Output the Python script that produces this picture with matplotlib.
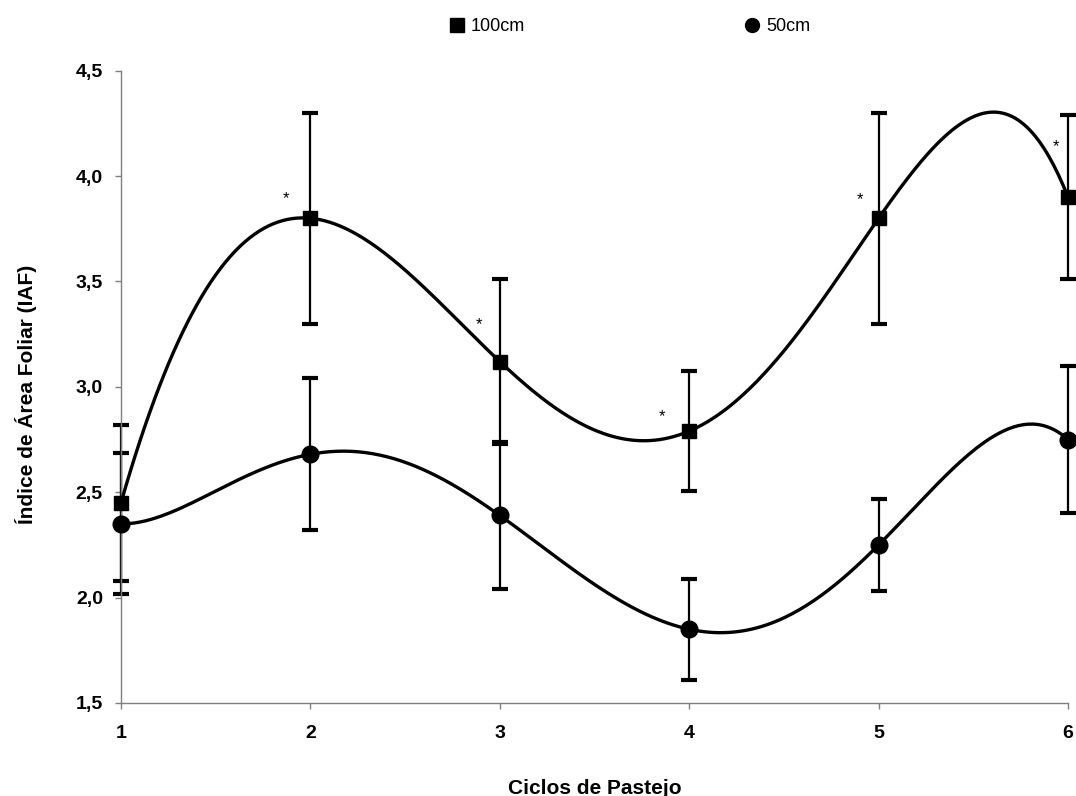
import numpy as np
import matplotlib
matplotlib.use("Agg")
import matplotlib.pyplot as plt
from matplotlib.ticker import FuncFormatter, FixedLocator

# ---- data ----
ciclos = [1, 2, 3, 4, 5, 6]
iaf_100 = [2.45, 3.80, 3.12, 2.79, 3.80, 3.90]
err_100 = [0.37, 0.50, 0.39, 0.285, 0.50, 0.39]
iaf_50 = [2.35, 2.68, 2.39, 1.85, 2.25, 2.75]
err_50 = [0.335, 0.36, 0.35, 0.24, 0.22, 0.35]
signif = [False, True, True, True, True, True]
y_ticks = [1.5, 2.0, 2.5, 3.0, 3.5, 4.0, 4.5]
legend_labels = ["100cm", "50cm"]
xlabel = "Ciclos de Pastejo"
ylabel = "Índice de Área Foliar (IAF)"

plt.rcParams['font.family'] = ['Liberation Sans', 'DejaVu Sans']

fig = plt.figure(figsize=(10.76, 7.96), dpi=100)
W, H = 1076, 796
ax = fig.add_axes([121 / W, 1 - 703 / H, (1068 - 121) / W, (703 - 70.7) / H])

x = np.array(ciclos, dtype=float)
xs = np.linspace(x.min(), x.max(), 400)

series = [
    (iaf_100, err_100, 's', 10),
    (iaf_50, err_50, 'o', 12),
]
for (vals, errs, mk, ms), lab in zip(series, legend_labels):
    # error bars
    ax.errorbar(x, vals, yerr=errs, fmt='none', ecolor='black', elinewidth=1.6,
                capsize=5.8, capthick=3.0, zorder=2, clip_on=False)
    # 5th-order polynomial trendline (as in the original)
    coef = np.polyfit(x, vals, len(x) - 1)
    ax.plot(xs, np.polyval(coef, xs), color='black', lw=2.4, zorder=3,
            solid_capstyle='round', clip_on=False)
    ax.plot(x, vals, linestyle='none', marker=mk, markersize=ms,
            color='black', zorder=4, clip_on=False, label=lab)

# significance asterisks (offsets in points from the 100cm markers)
star_dx = [0, -17.6, -14.8, -19.6, -13.4, -8.6]
star_dy = [0, 11.1, 23.6, 7.0, 10.4, 33.4]
for xi, yi, s, dx, dy in zip(x, iaf_100, signif, star_dx, star_dy):
    if s:
        ax.annotate("*", (xi, yi), xytext=(dx, dy), textcoords='offset points',
                    ha='center', va='baseline', fontsize=12, color='black')

ax.set_xlim(1, 6)
ax.set_ylim(1.5, 4.5)
ax.xaxis.set_major_locator(FixedLocator(ciclos))
ax.yaxis.set_major_locator(FixedLocator(y_ticks))
ax.yaxis.set_major_formatter(FuncFormatter(lambda v, p: f"{v:.1f}".replace('.', ',')))

for side in ['top', 'right']:
    ax.spines[side].set_visible(False)
for side in ['left', 'bottom']:
    ax.spines[side].set_color('#7f7f7f')
    ax.spines[side].set_linewidth(1.0)

ax.tick_params(axis='both', direction='out', length=4.5, width=1.0, color='#7f7f7f')
ax.tick_params(axis='y', pad=8.5, labelsize=14)
ax.tick_params(axis='x', pad=11, labelsize=14)
for t in ax.get_xticklabels() + ax.get_yticklabels():
    t.set_fontweight('bold')

ax.set_xlabel(xlabel, fontsize=15, fontweight='bold')
ax.xaxis.label.set_va('baseline')
ax.xaxis.set_label_coords(0.5, (703 - 794) / (703 - 70.7))
ax.set_ylabel(ylabel, fontsize=15, fontweight='bold')
ax.yaxis.label.set_va('center')
ax.yaxis.set_label_coords((26 - 121) / (1068 - 121), (703 - 394) / (703 - 70.7))

leg_handles = [
    plt.Line2D([], [], linestyle='none', marker='s', markersize=10, color='black'),
    plt.Line2D([], [], linestyle='none', marker='o', markersize=10, color='black'),
]
fig.legend(leg_handles, legend_labels, loc='center', bbox_to_anchor=(629 / W, 1 - 26.5 / H),
           ncol=2, frameon=False, fontsize=13, handlelength=1.0, handletextpad=0.25,
           columnspacing=12.1, borderpad=0.1)

fig.savefig("out.png", dpi=100)
